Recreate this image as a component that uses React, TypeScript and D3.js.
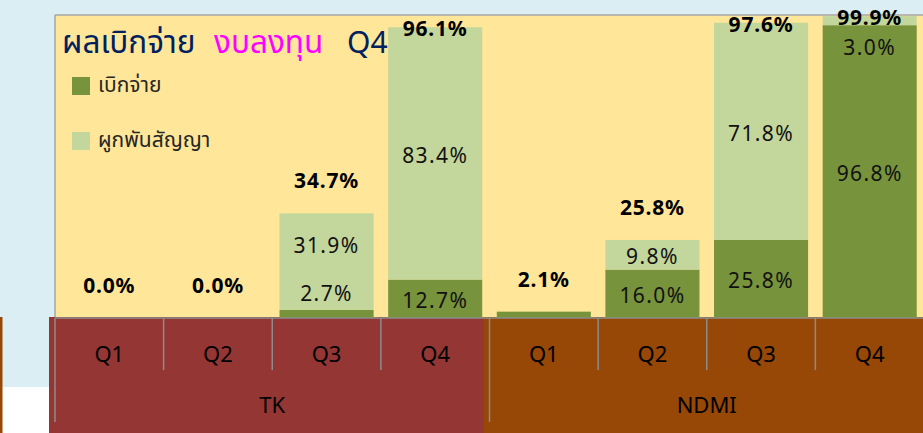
import React from 'react';
import * as d3 from 'd3';

const categories = ['Q1', 'Q2', 'Q3', 'Q4', 'Q1', 'Q2', 'Q3', 'Q4'];
const groups = ['TK', 'NDMI'];
const groupOf = [0, 0, 0, 0, 1, 1, 1, 1];
const disbursed = [0, 0, 2.7, 12.7, 2.1, 16.0, 25.8, 96.8];
const committed = [0, 0, 31.9, 83.4, 0, 9.8, 71.8, 3.0];
const totals = [0.0, 0.0, 34.7, 96.1, 2.1, 25.8, 97.6, 99.9];
const seriesNames = ['เบิกจ่าย', 'ผูกพันสัญญา'];
const titleParts = ['ผลเบิกจ่าย', 'งบลงทุน', 'Q4'];

const W = 923;
const H = 433;
const plotL = 55;
const plotR = 924;
const plotT = 15;
const base = 318;

const C = {
  sky: '#daeef3',
  plot: '#ffe699',
  dark: '#77933c',
  light: '#c3d69b',
  red: '#943634',
  brown: '#974706',
  grid: '#8c8c8c',
  navy: '#002060',
  magenta: '#ff00ff',
};

const NUM_FONT = "'Noto Sans', 'Open Sans', sans-serif";
const THAI_FONT = "'Noto Sans Thai', 'Noto Sans Thai UI', Tahoma, 'Noto Sans', sans-serif";

// manual label nudges (like Excel's moved labels), in px
const darkNudge = [0, 0, -22, 0, 0, 0, 0, 0];
const lightNudge = [0, 0, -18.5, 0, 0, 0, 0, 25];

const fmt = (v: number) => v.toFixed(1) + '%';

export default function App() {
  const idx = categories.map((_, i) => String(i));
  const xCat = d3.scaleBand<string>().domain(idx).range([plotL, plotR]).padding(0);
  const xBar = d3
    .scaleBand<string>()
    .domain(idx)
    .range([plotL, plotR])
    .paddingInner(0.134)
    .paddingOuter(0.067);
  const y = d3.scaleLinear().domain([0, 100]).range([base, plotT + 0.5]);

  const stack = d3
    .stack<number>()
    .keys(['d', 'c'])
    .value((i, key) => (key === 'd' ? disbursed[i] : committed[i]));
  const layers = stack(categories.map((_, i) => i));

  const step = xCat.step();
  const groupStart = (g: number) => plotL + step * groupOf.indexOf(g);
  const groupEnd = (g: number) => plotL + step * (groupOf.lastIndexOf(g) + 1);

  const numStyle: React.CSSProperties = { fontFamily: NUM_FONT, fontSize: 21 };
  const catStyle: React.CSSProperties = { fontFamily: NUM_FONT, fontSize: 22 };

  return (
    <svg
      width={W}
      height={H}
      style={{ position: 'absolute', left: 0, top: 0, display: 'block' }}
    >
      <rect x={0} y={0} width={W} height={H} fill={C.sky} />
      <rect x={0} y={387} width={49} height={H - 387} fill="#ffffff" />
      <rect x={0} y={317} width={2.5} height={H - 317} fill={C.brown} />

      {/* plot area */}
      <rect x={plotL} y={plotT} width={plotR - plotL} height={base - plotT} fill={C.plot} />
      <line x1={plotL} x2={W} y1={plotT} y2={plotT} stroke="#a6a6a6" strokeWidth={1.5} />
      <line x1={plotL} x2={plotL} y1={plotT} y2={base} stroke="#a6a6a6" strokeWidth={1.5} />

      {/* category band */}
      <rect x={49} y={317} width={484 - 49} height={H - 317} fill={C.red} />
      <rect x={484} y={317} width={W - 484} height={H - 317} fill={C.brown} />

      {/* bars */}
      {layers.map((layer, li) =>
        layer.map((s, i) => {
          const h = y(s[0]) - y(s[1]);
          if (h <= 0) return null;
          return (
            <rect
              key={`${li}-${i}`}
              x={xBar(String(i))}
              y={y(s[1])}
              width={xBar.bandwidth()}
              height={h}
              fill={li === 0 ? C.dark : C.light}
            />
          );
        })
      )}

      {/* baseline */}
      <line x1={plotL} x2={W} y1={base} y2={base} stroke={C.grid} strokeWidth={1.5} />

      {/* category dividers */}
      {d3.range(categories.length + 1).map((i) => {
        const x = plotL + i * step;
        const isGroup = i === 0 || groupOf[i] !== groupOf[i - 1];
        return (
          <line
            key={i}
            x1={x}
            x2={x}
            y1={base}
            y2={isGroup ? 422 : 370}
            stroke={C.grid}
            strokeWidth={1.5}
          />
        );
      })}

      {/* category labels */}
      {categories.map((c, i) => (
        <text
          key={i}
          x={(xCat(String(i)) as number) + step / 2}
          y={361.5}
          textAnchor="middle"
          fill="#000"
          style={catStyle}
        >
          {c}
        </text>
      ))}
      {groups.map((g, gi) => (
        <text
          key={g}
          x={(groupStart(gi) + groupEnd(gi)) / 2}
          y={413}
          textAnchor="middle"
          fill="#000"
          style={catStyle}
        >
          {g}
        </text>
      ))}

      {/* segment labels */}
      {categories.map((_, i) => {
        if (!(disbursed[i] > 0 && committed[i] > 0)) return null;
        const cx = (xBar(String(i)) as number) + xBar.bandwidth() / 2;
        const dMid = (y(layers[0][i][0]) + y(layers[0][i][1])) / 2 + 2 + darkNudge[i];
        const cMid = (y(layers[1][i][0]) + y(layers[1][i][1])) / 2 + 2 + lightNudge[i];
        return (
          <g key={i} fill="#111" style={numStyle} textAnchor="middle">
            <text x={cx} y={dMid + 7.5} letterSpacing={1.4}>
              {fmt(disbursed[i])}
            </text>
            <text x={cx} y={cMid + 7.5} letterSpacing={1.4}>
              {fmt(committed[i])}
            </text>
          </g>
        );
      })}

      {/* total labels */}
      {totals.map((t, i) => {
        const cx = (xBar(String(i)) as number) + xBar.bandwidth() / 2;
        const top = y(layers[1][i][1]);
        const mid = top - 32.5 < 20 ? top + 1.5 : top - 32.5;
        return (
          <text
            key={i}
            x={cx}
            y={mid + 7.5}
            textAnchor="middle"
            fill="#000"
            fontWeight="bold"
            letterSpacing={0.8}
            style={numStyle}
          >
            {fmt(t)}
          </text>
        );
      })}

      {/* title */}
      <g style={{ fontFamily: THAI_FONT, fontSize: 31.5 }}>
        <text x={62} y={53} fill={C.navy}>
          {titleParts[0]}
        </text>
        <text x={214} y={53} fill={C.magenta}>
          {titleParts[1]}
        </text>
        <text x={347} y={53} fill={C.navy} style={{ fontFamily: NUM_FONT, fontSize: 30 }}>
          {titleParts[2]}
        </text>
      </g>

      {/* legend */}
      {seriesNames.map((n, i) => (
        <g key={n} transform={`translate(0, ${i * 55})`}>
          <rect x={72} y={77} width={18} height={18} fill={i === 0 ? C.dark : C.light} />
          <text
            x={98}
            y={92}
            fill="#262626"
            style={{ fontFamily: THAI_FONT, fontSize: 21 }}
          >
            {n}
          </text>
        </g>
      ))}
    </svg>
  );
}
